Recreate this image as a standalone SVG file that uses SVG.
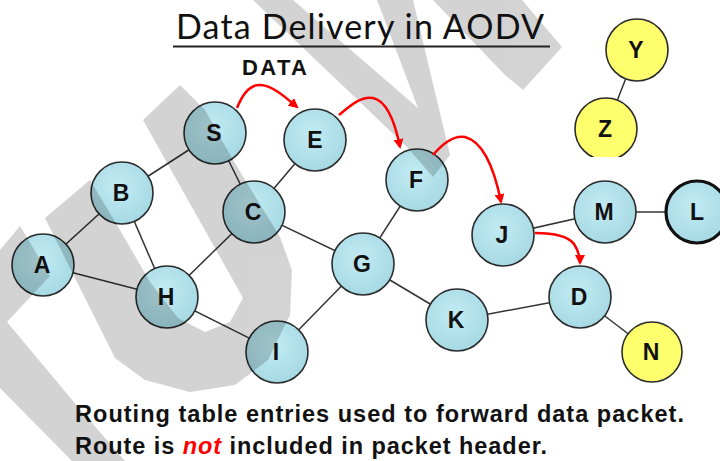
<svg xmlns="http://www.w3.org/2000/svg" width="720" height="461" viewBox="0 0 720 461">
<style>
.edge{stroke:#333;stroke-width:1.5;fill:none}
.node{fill:url(#blue);stroke:#2b2b2b;stroke-width:1.6}
.ynode{fill:#ffff6e;stroke:#2b2b2b;stroke-width:1.6}
.lbl{font-family:"Liberation Sans",Arial,sans-serif;font-weight:bold;font-size:23px;fill:#111;text-anchor:middle}
.arrow{stroke:#ff0000;stroke-width:2.5;fill:none;marker-end:url(#ah)}
.cap{font-family:"Liberation Sans",Arial,sans-serif;font-weight:bold;font-size:23.5px;fill:#111}
</style>
<defs>
<radialGradient id="blue" cx="0.45" cy="0.4" r="0.65">
<stop offset="0" stop-color="#c2ebf3"/>
<stop offset="1" stop-color="#a4d8e3"/>
</radialGradient>
<marker id="ah" viewBox="0 0 10 10" refX="8" refY="5" markerWidth="4" markerHeight="4" orient="auto">
<path d="M0,0 L10,5 L0,10 z" fill="#ff0000"/>
</marker>
<clipPath id="zclip"><rect x="560" y="80" width="100" height="77"/></clipPath>
</defs>
<rect width="720" height="461" fill="#fff"/>
<g id="connectors">
<line class="edge" x1="215" y1="133" x2="122" y2="193"/>
<line class="edge" x1="215" y1="133" x2="254" y2="212"/>
<line class="edge" x1="122" y1="193" x2="43" y2="265"/>
<line class="edge" x1="122" y1="193" x2="167" y2="297"/>
<line class="edge" x1="43" y1="265" x2="167" y2="297"/>
<line class="edge" x1="167" y1="297" x2="254" y2="212"/>
<line class="edge" x1="167" y1="297" x2="277" y2="352"/>
<line class="edge" x1="254" y1="212" x2="315" y2="140"/>
<line class="edge" x1="254" y1="212" x2="363" y2="264"/>
<line class="edge" x1="277" y1="352" x2="363" y2="264"/>
<line class="edge" x1="363" y1="264" x2="417" y2="180"/>
<line class="edge" x1="363" y1="264" x2="457" y2="320"/>
<line class="edge" x1="457" y1="320" x2="580" y2="297"/>
<line class="edge" x1="580" y1="297" x2="652" y2="352"/>
<line class="edge" x1="503" y1="235" x2="605" y2="212"/>
<line class="edge" x1="605" y1="212" x2="697" y2="212"/>
<line class="edge" x1="637" y1="50" x2="606" y2="129"/>
</g>
<g id="node-S"><circle class="node" cx="215" cy="133" r="31"/><text class="lbl" x="214" y="141">S</text></g>
<g id="node-E"><circle class="node" cx="315" cy="140" r="31"/><text class="lbl" x="315" y="148">E</text></g>
<g id="node-B"><circle class="node" cx="122" cy="193" r="31"/><text class="lbl" x="121" y="201">B</text></g>
<g id="node-C"><circle class="node" cx="254" cy="212" r="31"/><text class="lbl" x="253" y="220">C</text></g>
<g id="node-A"><circle class="node" cx="43" cy="265" r="31"/><text class="lbl" x="42" y="273">A</text></g>
<g id="node-H"><circle class="node" cx="167" cy="297" r="31"/><text class="lbl" x="166" y="305">H</text></g>
<g id="node-I"><circle class="node" cx="277" cy="352" r="31"/><text class="lbl" x="276" y="360">I</text></g>
<g id="node-G"><circle class="node" cx="363" cy="264" r="31"/><text class="lbl" x="362" y="272">G</text></g>
<g id="node-F"><circle class="node" cx="417" cy="180" r="31"/><text class="lbl" x="416" y="188">F</text></g>
<g id="node-J"><circle class="node" cx="503" cy="235" r="31"/><text class="lbl" x="502" y="243">J</text></g>
<g id="node-M"><circle class="node" cx="605" cy="212" r="31"/><text class="lbl" x="604" y="220">M</text></g>
<g id="node-L"><circle class="node" cx="697" cy="212" r="31" style="stroke:#111;stroke-width:3.2"/><text class="lbl" x="697" y="220">L</text></g>
<g id="node-D"><circle class="node" cx="580" cy="297" r="31"/><text class="lbl" x="579" y="305">D</text></g>
<g id="node-K"><circle class="node" cx="457" cy="320" r="31"/><text class="lbl" x="456" y="328">K</text></g>
<g id="node-N"><circle class="ynode" cx="652" cy="352" r="30"/><text class="lbl" x="651" y="360">N</text></g>
<g id="node-Y"><circle class="ynode" cx="637" cy="50" r="31"/><text class="lbl" x="636" y="58">Y</text></g>
<g id="node-Z" clip-path="url(#zclip)"><circle class="ynode" cx="606" cy="129" r="31"/><text class="lbl" x="605" y="137">Z</text></g>
<g id="watermark" fill="#000" opacity="0.17">
<polygon points="0,250 20,226 50,276 7,322 78,407 125,461 72,461 0,388"/>
<polygon points="143,120 180,85 205,110 233,160 280,237 292,270 290,315 268,360 235,385 190,392 145,380 115,358 45,218 90,180 120,230 150,282 178,318 205,332 230,322 243,298"/>
<polygon points="253,0 407,147 433,177 450,155 413,0 377,0 418,108 293,0"/>
<polygon points="433,0 505,75 523,90 562,47 522,0"/>
</g>
<g id="arrows">
<path class="arrow" d="M237,108 C243,93 251,84 261,85 C273,86 285,97 297,107"/>
<path class="arrow" d="M339,115 C352,104 362,96 373,98 C387,101 395,122 400,147"/>
<path class="arrow" d="M433,155 C444,142 454,135 465,137 C484,142 495,172 501,202"/>
<path class="arrow" d="M535,233 C555,233 568,236 574,244 C578,250 580,256 580,263"/>
</g>
<g id="title">
<text x="176" y="39" style="font-family:Lato,'Liberation Sans',sans-serif;font-size:34px;fill:#111" textLength="368">Data Delivery in AODV</text>
<line x1="173" y1="46.5" x2="550" y2="46.5" stroke="#222" stroke-width="2"/>
<text x="242" y="75" style="font-family:'Liberation Sans',Arial,sans-serif;font-weight:bold;font-size:22px;fill:#111" textLength="65">DATA</text>
</g>
<g id="caption">
<text class="cap" x="75" y="422" textLength="609">Routing table entries used to forward data packet.</text>
<text class="cap" x="75" y="454" textLength="472">Route is <tspan fill="#ff0000" font-style="italic">not</tspan> included in packet header.</text>
</g>
</svg>
